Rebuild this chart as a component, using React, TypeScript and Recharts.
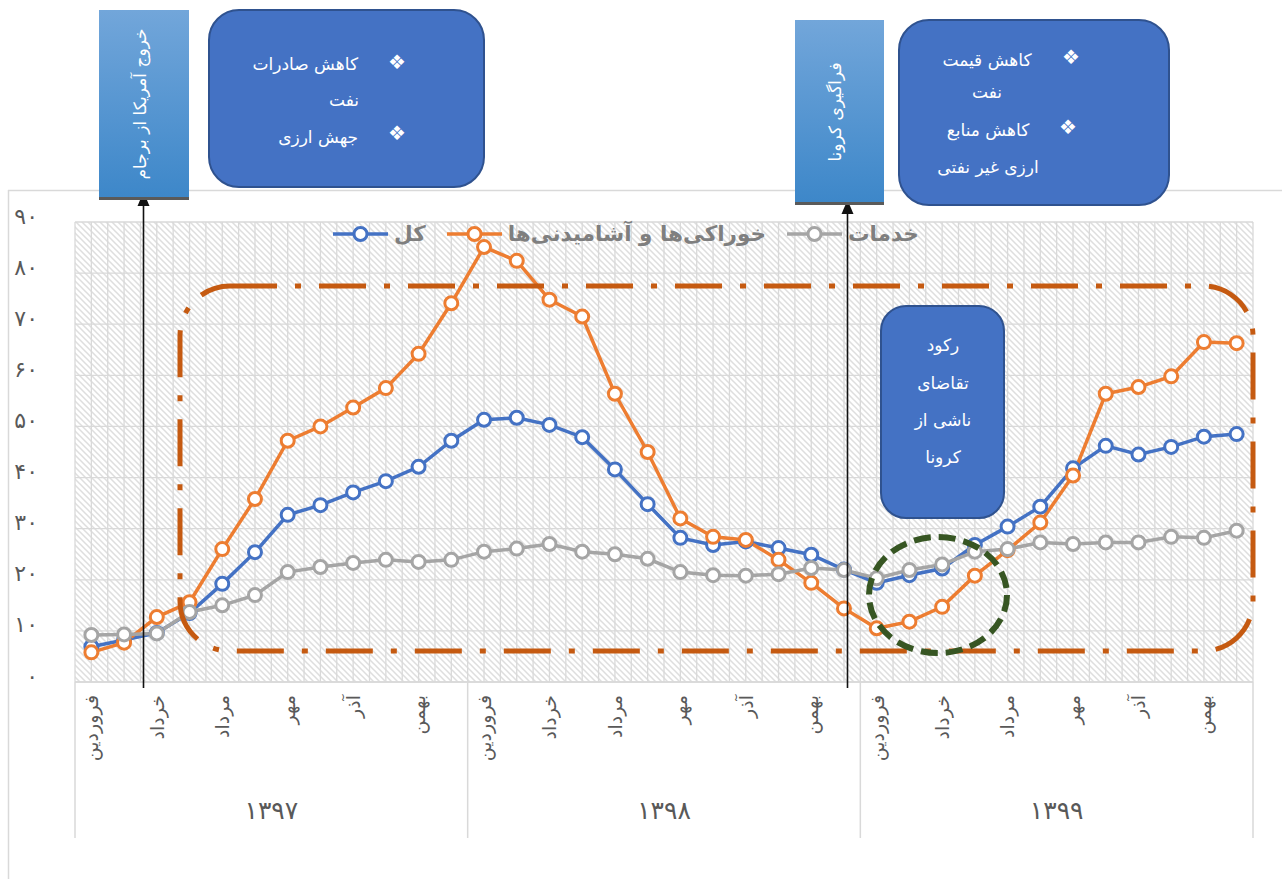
import React from 'react';
import { LineChart, Line, XAxis, YAxis, CartesianGrid, Legend } from 'recharts';

const monthNames = ['فروردین', 'اردیبهشت', 'خرداد', 'تیر', 'مرداد', 'شهریور', 'مهر', 'آبان', 'آذر', 'دی', 'بهمن', 'اسفند'];
const years = ['۱۳۹۷', '۱۳۹۸', '۱۳۹۹'];

const kol = [
  6.9, 8.2, 9.6, 13.5, 19.2, 25.4, 32.7, 34.6, 37.1, 39.3, 42.1, 47.2,
  51.3, 51.7, 50.3, 47.9, 41.6, 34.8, 28.2, 26.8, 27.5, 26.2, 24.9, 22.0,
  19.4, 20.9, 22.2, 26.8, 30.4, 34.3, 41.8, 46.2, 44.5, 46.0, 48.0, 48.5,
];
const khorak = [
  5.8, 7.7, 12.7, 15.6, 26.0, 35.8, 47.2, 50.0, 53.7, 57.5, 64.2, 74.1,
  85.1, 82.4, 74.8, 71.5, 56.4, 45.0, 32.0, 28.4, 27.8, 23.9, 19.4, 14.4,
  10.5, 11.8, 14.7, 20.8, 25.8, 31.2, 40.4, 56.4, 57.7, 59.8, 66.5, 66.3,
];
const khadamat = [
  9.2, 9.3, 9.5, 13.7, 15.0, 17.0, 21.5, 22.5, 23.3, 23.9, 23.5, 23.9,
  25.5, 26.1, 27.0, 25.5, 25.0, 24.1, 21.5, 20.9, 20.8, 21.1, 22.3, 21.9,
  20.3, 21.9, 23.0, 25.5, 26.0, 27.3, 27.0, 27.3, 27.3, 28.4, 28.2, 29.6,
];

const yTicks = [0, 10, 20, 30, 40, 50, 60, 70, 80, 90];
const yTickLabels = ['۰', '۱۰', '۲۰', '۳۰', '۴۰', '۵۰', '۶۰', '۷۰', '۸۰', '۹۰'];
const seriesNames = ['کل', 'خوراکی‌ها و آشامیدنی‌ها', 'خدمات'];

const data = years.flatMap((yr, yi) =>
  monthNames.map((m, mi) => {
    const i = yi * 12 + mi;
    return { key: i, month: m, year: yr, kol: kol[i], khorak: khorak[i], khadamat: khadamat[i] };
  })
);

const FONT = "'DejaVu Sans', 'Noto Sans', sans-serif";
const BLUE = '#4472C4';
const ORANGE = '#ED7D31';
const GRAY = '#A5A5A5';
const GRID = '#d9d9d9';
const seriesColors = [BLUE, ORANGE, GRAY];

// layout
const CH_LEFT = 8;
const CH_TOP = 190;
const CH_W = 1274;
const CH_H = 689;
const Y_W = 67;
const M_TOP = 32;
const M_RIGHT = 29;
const X_H = 197;
const PLOT_W = CH_W - Y_W - M_RIGHT;
const BAND = PLOT_W / data.length;

const MonthTick = (props: any) => {
  const { x, y, payload } = props;
  const i = Number(payload.value);
  const els: React.ReactNode[] = [];
  if (i % 2 === 0) {
    els.push(
      <text key="m" transform={`translate(${x},${y + 13}) rotate(-90)`} textAnchor="end" dy="0.36em"
        fill="#595959" fontSize={19} fontFamily={FONT}>{data[i].month}</text>
    );
  }
  if (i % 12 === 0) {
    els.push(<line key="s" x1={x - BAND / 2} x2={x - BAND / 2} y1={y} y2={y + 156} stroke={GRID} strokeWidth={1.5} />);
  }
  if (i === data.length - 1) {
    els.push(<line key="e" x1={x + BAND / 2} x2={x + BAND / 2} y1={y} y2={y + 156} stroke={GRID} strokeWidth={1.5} />);
  }
  if (i % 12 === 6) {
    els.push(
      <text key="y" x={x - BAND / 2} y={y + 128} textAnchor="middle" dominantBaseline="central"
        fill="#595959" fontSize={25} fontFamily={FONT}>{data[i].year}</text>
    );
  }
  return <g>{els}</g>;
};

const YTick = (props: any) => {
  const { x, y, payload } = props;
  const idx = yTicks.indexOf(payload.value);
  return (
    <text x={x} y={y - 6} textAnchor="end" dominantBaseline="central" fill="#595959" fontSize={22} fontFamily={FONT}>
      {yTickLabels[idx]}
    </text>
  );
};

const LegendContent = () => (
  <div style={{ display: 'flex', alignItems: 'center', direction: 'ltr', fontFamily: FONT, fontWeight: 'bold', fontSize: 21.5, color: '#7f7f7f', whiteSpace: 'nowrap' }}>
    {seriesNames.map((name, i) => (
      <div key={i} style={{ display: 'flex', alignItems: 'center', marginRight: 21 }}>
        <svg width={55} height={20} style={{ display: 'block' }}>
          <line x1={0} y1={10} x2={55} y2={10} stroke={seriesColors[i]} strokeWidth={3.5} />
          <circle cx={27.5} cy={10} r={6.5} fill="#fff" stroke={seriesColors[i]} strokeWidth={3} />
        </svg>
        <span style={{ marginLeft: 6, lineHeight: '28px', direction: 'rtl', unicodeBidi: 'isolate' }}>{name}</span>
      </div>
    ))}
  </div>
);

const Arrow = ({ x, yTop, yBottom }: { x: number; yTop: number; yBottom: number }) => (
  <g>
    <line x1={x} x2={x} y1={yBottom} y2={yTop + 10} stroke="#111" strokeWidth={1.6} />
    <polygon points={`${x},${yTop} ${x - 6},${yTop + 14} ${x + 6},${yTop + 14}`} fill="#111" />
  </g>
);

const Bullet = ({ x, y }: { x: number; y: number }) => (
  <text x={x} y={y} textAnchor="middle" dominantBaseline="central" fill="#fff" fontSize={20} fontFamily={FONT}>❖</text>
);

const BoxText = ({ x, y, anchor, children }: any) => (
  <text x={x} y={y} textAnchor={anchor} dominantBaseline="central" fill="#fff" fontSize={17} fontFamily={FONT}>{children}</text>
);

const Overlay = () => (
  <svg width={1282} height={879} style={{ position: 'absolute', left: 0, top: 0, pointerEvents: 'none' }}>
    <defs>
      <linearGradient id="tallGrad" x1="0" y1="0" x2="0" y2="1">
        <stop offset="0%" stopColor="#72a6da" />
        <stop offset="100%" stopColor="#3d87c9" />
      </linearGradient>
    </defs>
    {/* chart frame */}
    <line x1={CH_LEFT} x2={1282} y1={CH_TOP + 0.5} y2={CH_TOP + 0.5} stroke={GRID} strokeWidth={1.5} />
    <line x1={CH_LEFT + 0.5} x2={CH_LEFT + 0.5} y1={CH_TOP} y2={879} stroke={GRID} strokeWidth={1.5} />

    {/* dash-dot region */}
    <rect x={180} y={286} width={1073} height={365} rx={50} ry={50} fill="none" stroke="#C55A11" strokeWidth={5}
      strokeDasharray="47 18 6 18" />

    {/* green dashed ellipse */}
    <ellipse cx={938} cy={595} rx={69} ry={58} fill="none" stroke="#375623" strokeWidth={6} strokeDasharray="17 8" />

    {/* arrows */}
    <Arrow x={143.5} yTop={192} yBottom={688} />
    <Arrow x={847.5} yTop={200} yBottom={688} />

    {/* tall box left */}
    <rect x={99} y={10} width={90} height={188} fill="url(#tallGrad)" />
    <rect x={99} y={197} width={90} height={3} fill="#5a5a5a" />
    <text transform="translate(140,104) rotate(-90)" textAnchor="middle" dominantBaseline="central" fill="#fff" fontSize={17} fontFamily={FONT}>
      خروج آمریکا از برجام
    </text>

    {/* tall box right */}
    <rect x={795} y={20} width={89} height={183} fill="url(#tallGrad)" />
    <rect x={795} y={202} width={89} height={3} fill="#5a5a5a" />
    <text transform="translate(835,112) rotate(-90)" textAnchor="middle" dominantBaseline="central" fill="#fff" fontSize={17} fontFamily={FONT}>
      فراگیری کرونا
    </text>

    {/* rounded box left */}
    <rect x={209} y={10} width={275} height={177} rx={30} ry={30} fill="#4472C4" stroke="#2F528F" strokeWidth={2} />
    <Bullet x={397} y={62} />
    <BoxText x={358} y={64} anchor="end">کاهش صادرات</BoxText>
    <BoxText x={359} y={100} anchor="end">نفت</BoxText>
    <Bullet x={397} y={133} />
    <BoxText x={358} y={137} anchor="end">جهش ارزی</BoxText>

    {/* rounded box right */}
    <rect x={899} y={20} width={270} height={185} rx={30} ry={30} fill="#4472C4" stroke="#2F528F" strokeWidth={2} />
    <Bullet x={1071} y={57} />
    <BoxText x={987} y={60} anchor="middle">کاهش قیمت</BoxText>
    <BoxText x={987} y={92} anchor="middle">نفت</BoxText>
    <Bullet x={1068} y={127} />
    <BoxText x={988} y={130} anchor="middle">کاهش منابع</BoxText>
    <BoxText x={988} y={167} anchor="middle">ارزی غیر نفتی</BoxText>

    {/* corona box */}
    <rect x={881} y={306} width={123} height={212} rx={25} ry={25} fill="#4472C4" stroke="#2F528F" strokeWidth={2} />
    <BoxText x={943} y={345} anchor="middle">رکود</BoxText>
    <BoxText x={943} y={383} anchor="middle">تقاضای</BoxText>
    <BoxText x={943} y={420} anchor="middle">ناشی از</BoxText>
    <BoxText x={943} y={457} anchor="middle">کرونا</BoxText>
  </svg>
);

export default function App() {
  return (
    <div style={{ position: 'absolute', left: 0, top: 0, width: 1282, height: 879, overflow: 'hidden', background: '#fff' }}>
      <div style={{ position: 'absolute', left: CH_LEFT, top: CH_TOP }}>
        <LineChart width={CH_W} height={CH_H} data={data} margin={{ top: M_TOP, right: M_RIGHT, bottom: 0, left: 0 }}>
          <defs>
            <pattern id="hatch" patternUnits="userSpaceOnUse" width={6} height={6}>
              <rect width={6} height={6} fill="#ffffff" />
              <path d="M-1,-1 L7,7 M-4,2 L2,8 M2,-4 L8,2" stroke="#dedede" strokeWidth={1.5} />
            </pattern>
          </defs>
          <CartesianGrid
            stroke={GRID}
            strokeWidth={1.3}
            fill="url(#hatch)"
            fillOpacity={1}
            verticalCoordinatesGenerator={({ offset }: any) =>
              Array.from({ length: data.length * 2 + 1 }, (_, k) => offset.left + (k * offset.width) / (data.length * 2))
            }
          />
          <XAxis
            dataKey="key"
            type="category"
            scale="band"
            interval={0}
            height={X_H}
            tick={<MonthTick />}
            tickLine={false}
            tickSize={0}
            tickMargin={0}
            axisLine={{ stroke: GRID, strokeWidth: 1.5 }}
          />
          <YAxis
            width={Y_W}
            domain={[0, 90]}
            ticks={yTicks}
            interval={0}
            tick={<YTick />}
            tickLine={false}
            axisLine={false}
            tickSize={6}
            tickMargin={31}
          />
          <Legend
            layout="horizontal"
            verticalAlign="middle"
            align="center"
            content={<LegendContent />}
            wrapperStyle={{ top: 30, left: 325, width: 'auto', height: 'auto' }}
          />
          <Line type="linear" dataKey="kol" name={seriesNames[0]} stroke={BLUE} strokeWidth={3.5}
            dot={{ r: 6.5, fill: '#fff', stroke: BLUE, strokeWidth: 3 }} isAnimationActive={false} />
          <Line type="linear" dataKey="khorak" name={seriesNames[1]} stroke={ORANGE} strokeWidth={3.5}
            dot={{ r: 6.5, fill: '#fff', stroke: ORANGE, strokeWidth: 3 }} isAnimationActive={false} />
          <Line type="linear" dataKey="khadamat" name={seriesNames[2]} stroke={GRAY} strokeWidth={3.5}
            dot={{ r: 6.5, fill: '#fff', stroke: GRAY, strokeWidth: 3 }} isAnimationActive={false} />
        </LineChart>
      </div>
      <Overlay />
    </div>
  );
}
